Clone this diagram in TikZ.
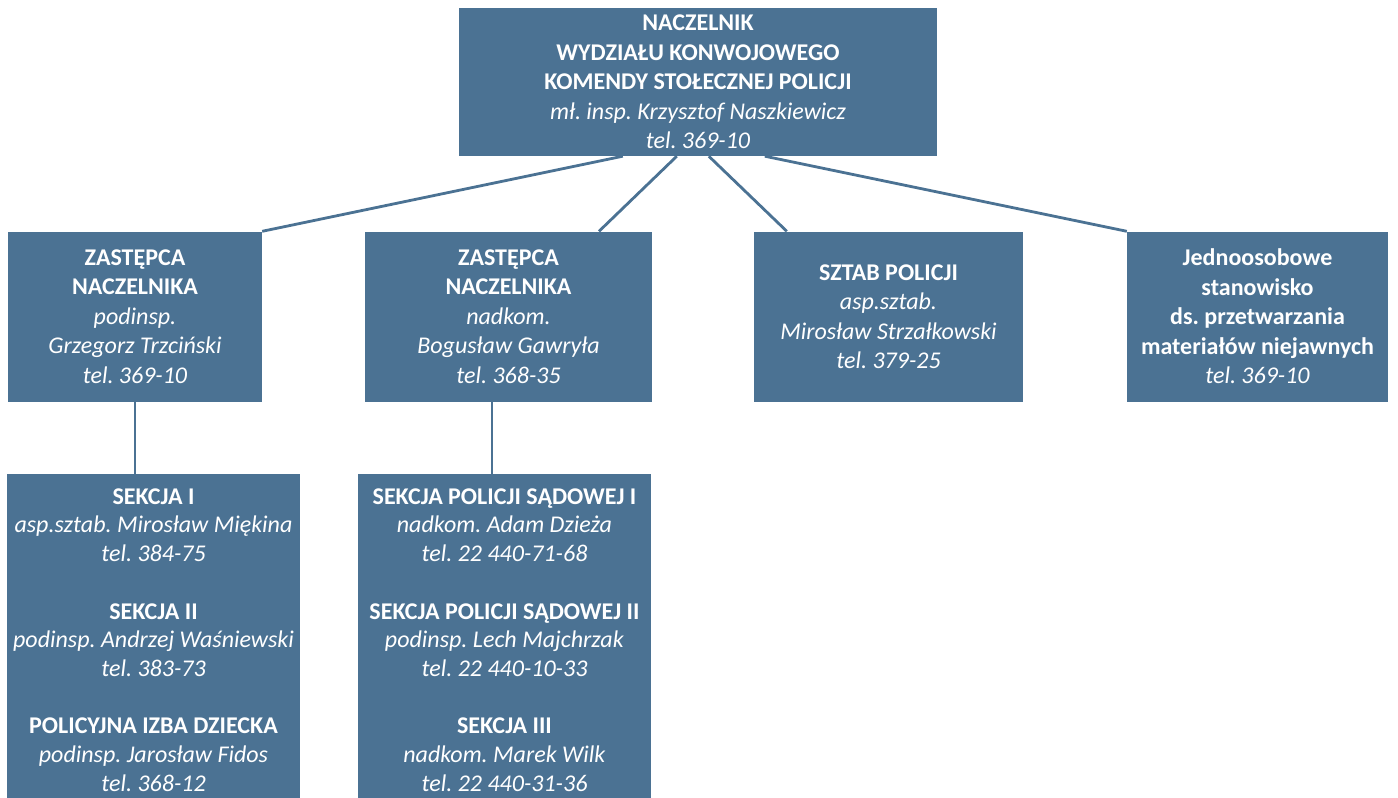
\documentclass[tikz,border=0pt]{standalone}
\usepackage{fontspec}
\setmainfont{Carlito}
\usetikzlibrary{calc,backgrounds}
\definecolor{boxc}{HTML}{4B7293}
\frenchspacing
\begin{document}
\begin{tikzpicture}[x=1pt,y=-1pt,
  orgbox/.style={fill=boxc, text=white, inner sep=0pt, align=center,
    font=\fontsize{24}{29.5}\selectfont},
  lowbox/.style={orgbox, font=\fontsize{24}{28.7}\selectfont},
  link/.style={draw=boxc, line width=2.8pt}]
\useasboundingbox (0,0) rectangle (1398,798);
\clip (0,0) rectangle (1398,798);
\node[orgbox, minimum width=478pt, minimum height=148pt] (top) at (698,82)
  {\textbf{NACZELNIK}\\ \textbf{WYDZIAŁU KONWOJOWEGO}\\ \textbf{KOMENDY STOŁECZNEJ POLICJI}\\ \textit{mł. insp. Krzysztof Naszkiewicz}\\ \textit{tel. 369-10}};
\node[orgbox, minimum width=254pt, minimum height=170pt] (b1) at (135,316.5)
  {\textbf{ZASTĘPCA}\\ \textbf{NACZELNIKA}\\ \textit{podinsp.}\\ \textit{Grzegorz Trzciński}\\ \textit{tel. 369-10}};
\node[orgbox, minimum width=287pt, minimum height=170pt] (b2) at (508.5,316.5)
  {\textbf{ZASTĘPCA}\\ \textbf{NACZELNIKA}\\ \textit{nadkom.}\\ \textit{Bogusław Gawryła}\\ \textit{tel. 368-35}};
\node[orgbox, minimum width=269pt, minimum height=170pt] (b3) at (888.5,316.5)
  {\textbf{SZTAB POLICJI}\\ \textit{asp.sztab.}\\ \textit{Mirosław Strzałkowski}\\ \textit{tel. 379-25}};
\node[orgbox, minimum width=261pt, minimum height=170pt] (b4) at (1257.5,316.5)
  {\textbf{Jednoosobowe}\\ \textbf{stanowisko}\\ \textbf{ds. przetwarzania}\\ \textbf{materiałów niejawnych}\\ \textit{tel. 369-10}};
\node[lowbox, minimum width=293pt, minimum height=332pt] (b5) at (153.5,640)
  {\textbf{SEKCJA I}\\ \textit{asp.sztab. Mirosław Miękina}\\ \textit{tel. 384-75}\\[28.7pt]
   \textbf{SEKCJA II}\\ \textit{podinsp. Andrzej Waśniewski}\\ \textit{tel. 383-73}\\[28.7pt]
   \textbf{POLICYJNA IZBA DZIECKA}\\ \textit{podinsp. Jarosław Fidos}\\ \textit{tel. 368-12}};
\node[lowbox, minimum width=293pt, minimum height=332pt] (b6) at (504.5,640)
  {\textbf{SEKCJA POLICJI SĄDOWEJ I}\\ \textit{nadkom. Adam Dzieża}\\ \textit{tel. 22 440-71-68}\\[28.7pt]
   \textbf{SEKCJA POLICJI SĄDOWEJ II}\\ \textit{podinsp. Lech Majchrzak}\\ \textit{tel. 22 440-10-33}\\[28.7pt]
   \textbf{SEKCJA III}\\ \textit{nadkom. Marek Wilk}\\ \textit{tel. 22 440-31-36}};
\begin{scope}[on background layer]
\draw[link] ($(top.south west)+(164,0)$) -- (b1.north east);
\draw[link] ($(top.south west)+(218,0)$) -- ($(b2.north)+(90.5,0)$);
\draw[link] ($(top.south west)+(250,0)$) -- ($(b3.north west)+(33,0)$);
\draw[link] ($(top.south west)+(306,0)$) -- (b4.north west);
\draw[link] (b1.south) -- (b1.south |- b5.north);
\draw[link] ($(b2.south)+(-16.5,0)$) coordinate (v2) -- (v2 |- b6.north);
\end{scope}
\end{tikzpicture}
\end{document}
